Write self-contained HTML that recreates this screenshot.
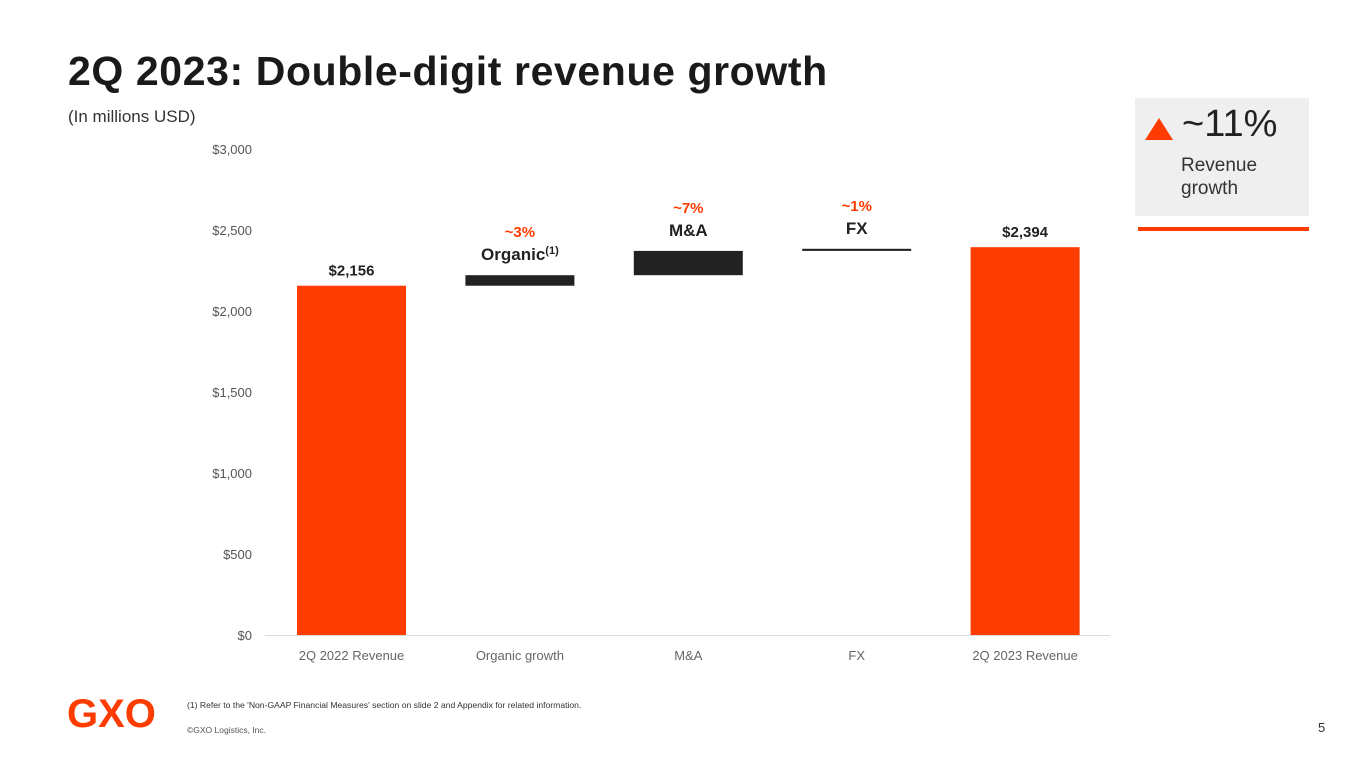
<!DOCTYPE html>
<html><head><meta charset="utf-8"><style>
body{margin:0;width:1365px;height:768px;background:#fff;font-family:"Liberation Sans",sans-serif;position:relative;overflow:hidden}
.a{position:absolute;margin:0}
</style></head><body>
<h1 class="a" style="left:68px;top:48px;font-size:41px;letter-spacing:0.6px;font-weight:bold;color:#1a1a1a">2Q 2023: Double-digit revenue growth</h1>
<div class="a" style="left:68px;top:107px;font-size:17px;color:#333">(In millions USD)</div>
<div class="a" style="left:1135px;top:98px;width:174px;height:118px;background:#efefef">
 <div class="a" style="left:10px;top:20px;width:0;height:0;border-left:14px solid transparent;border-right:14px solid transparent;border-bottom:22px solid #ff3c00"></div>
 <div class="a" style="left:47px;top:5px;font-size:38px;color:#222">~11%</div>
 <div class="a" style="left:46px;top:56px;font-size:19px;line-height:23px;color:#333">Revenue<br>growth</div>
</div>
<div class="a" style="left:1138px;top:227px;width:171px;height:4px;background:#ff3c00"></div>
<svg class="a" id="chart" style="left:0;top:0" width="1365" height="690"></svg>
<div class="a" style="left:67px;top:692px;font-size:40px;font-weight:bold;color:#ff3c00;letter-spacing:0px">GXO</div>
<div class="a" style="left:187px;top:700px;font-size:8.6px;color:#333">(1) Refer to the 'Non-GAAP Financial Measures' section on slide 2 and Appendix for related information.</div>
<div class="a" style="left:187px;top:725px;font-size:8.5px;color:#555">©GXO Logistics, Inc.</div>
<div class="a" style="left:1318px;top:720px;font-size:13px;color:#333">5</div>
<script>
const categories=["2Q 2022 Revenue","Organic growth","M&A","FX","2Q 2023 Revenue"];
const bases=[0,2156,2221,2371,0];
const tops=[2156,2221,2371,2384,2394];
const valueLabels=["$2,156","","","","$2,394"];
const pctLabels=["","~3%","~7%","~1%",""];
const nameLabels=["","Organic","M&A","FX",""];
const ticks=[0,500,1000,1500,2000,2500,3000];
const NS="http://www.w3.org/2000/svg",svg=document.getElementById("chart");
const y=v=>635-v*486/3000, xc=i=>351.5+i*168.4;
function mk(t,a,txt){const e=document.createElementNS(NS,t);for(const k in a)e.setAttribute(k,a[k]);if(txt!=null)e.textContent=txt;svg.appendChild(e);return e;}
ticks.forEach(t=>{const e=mk("text",{x:252,y:y(t)+5,"text-anchor":"end","font-size":13,fill:"#555"},"$"+t.toLocaleString("en-US"));

});
const ax=mk("line",{x1:265,x2:1110,y1:635.5,y2:635.5,stroke:"#ddd"});


categories.forEach((c,i)=>{
 const total=(i==0||i==4), col=total?"#ff3c00":"#222";
 const yt=y(tops[i]), yb=y(bases[i]);
 const r=mk("rect",{x:xc(i)-54.5,y:yt,width:109,height:Math.max(2,yb-yt),fill:col});
 
 
 const xl=mk("text",{x:xc(i),y:660,"text-anchor":"middle","font-size":13,fill:"#666"},c);
 
 
 if(valueLabels[i]){const v=mk("text",{x:xc(i),y:yt-10,"text-anchor":"middle","font-size":15,"font-weight":"bold",fill:"#222"},valueLabels[i]);
 
 }
 if(nameLabels[i]){const n=mk("text",{x:xc(i),y:yt-15,"text-anchor":"middle","font-size":17,"font-weight":"bold",fill:"#222"},nameLabels[i]);
 
 
 if(i==1){const s=document.createElementNS(NS,"tspan");s.setAttribute("font-size","11");s.setAttribute("dy","-6");s.textContent="(1)";n.appendChild(s);}
 const p=mk("text",{x:xc(i),y:yt-38,"text-anchor":"middle","font-size":15,"font-weight":"bold",fill:"#ff3c00"},pctLabels[i]);
 
 }
});
</script>
</body></html>
